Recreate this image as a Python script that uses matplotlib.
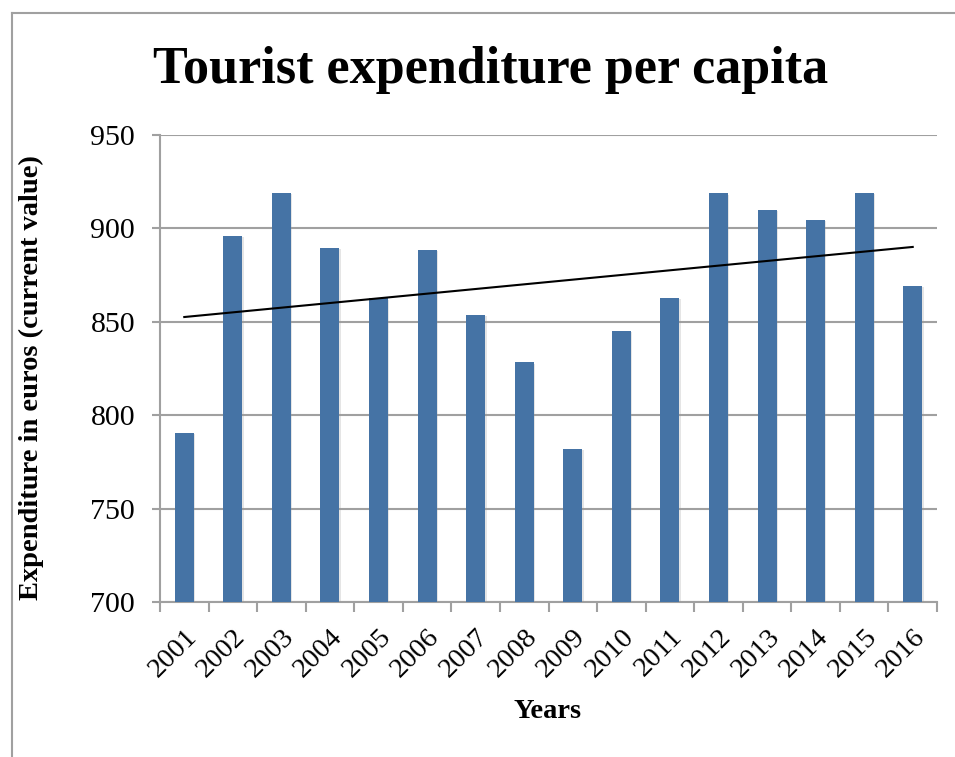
import numpy as np
import matplotlib.pyplot as plt
import matplotlib.patheffects as pe
import matplotlib.transforms as mtransforms
from matplotlib.lines import Line2D

# Tourist expenditure per capita, euros (current value)
years = ['2001', '2002', '2003', '2004', '2005', '2006', '2007', '2008',
         '2009', '2010', '2011', '2012', '2013', '2014', '2015', '2016']
expenditure = [790.6, 895.7, 918.9, 889.5, 862.4, 888.4, 853.5, 828.2,
               782.0, 845.1, 862.8, 918.6, 909.8, 904.5, 918.9, 869.2]
y_ticks = [700, 750, 800, 850, 900, 950]

n = len(years)
x = np.arange(n)

# linear trend line through the bars
coef = np.polyfit(x, expenditure, 1)
trend = np.polyval(coef, x)

plt.rcParams['font.family'] = ['Liberation Serif', 'DejaVu Serif']

fig = plt.figure(figsize=(9.55, 7.57), dpi=100)
ax = fig.add_axes([160 / 955, 1 - 602 / 757, 777 / 955, 467.5 / 757])

# chart frame (left and top edges)
grey = '#a0a0a0'
fig.add_artist(Line2D([12 / 955, 12 / 955], [0, 1 - 13 / 757], color=grey, lw=1.5))
fig.add_artist(Line2D([12 / 955, 1], [1 - 13 / 757, 1 - 13 / 757], color=grey, lw=1.5))

bars = ax.bar(x, expenditure, width=0.39, color='#4573a5', zorder=3)
for b in bars:
    b.set_path_effects([pe.SimplePatchShadow(offset=(1, -1), shadow_rgbFace='#999999', alpha=0.25),
                        pe.Normal()])
ax.plot(x, trend, color='black', lw=1.5, zorder=4)

ax.set_xlim(-0.5, n - 0.5)
ax.set_ylim(700, 950)
ax.set_yticks(y_ticks)
ax.yaxis.grid(True, color=grey, lw=1.5, zorder=0)
ax.tick_params(axis='y', length=6, width=1.5, color=grey, labelsize=21.5, pad=12)

# category ticks sit between the bars, labels centred under them
ax.set_xticks(np.arange(n + 1) - 0.5)
ax.set_xticklabels([])
ax.set_xticks(x, minor=True)
ax.set_xticklabels(years, minor=True, rotation=45, ha='right', rotation_mode='anchor', fontsize=20.5)
shift = mtransforms.ScaledTranslation(-7 / 100, 0, fig.dpi_scale_trans)
for lbl in ax.get_xticklabels(minor=True):
    lbl.set_transform(lbl.get_transform() + shift)
ax.tick_params(axis='x', which='major', length=7, width=1.5, color=grey)
ax.tick_params(axis='x', which='minor', length=0, pad=16)

for side in ['top', 'right']:
    ax.spines[side].set_visible(False)
for side in ['left', 'bottom']:
    ax.spines[side].set_color(grey)
    ax.spines[side].set_linewidth(1.5)

fig.text(491 / 955, 1 - 70 / 757, 'Tourist expenditure per capita', ha='center', va='center',
         fontsize=37.5, fontweight='bold')
fig.text(548 / 955, 1 - 712 / 757, 'Years', ha='center', va='center', fontsize=20.5, fontweight='bold')
fig.text(31 / 955, 1 - 378 / 757, 'Expenditure in euros (current value)', ha='center', va='center',
         rotation=90, fontsize=20.5, fontweight='bold')

plt.savefig('out.png', dpi=100)
